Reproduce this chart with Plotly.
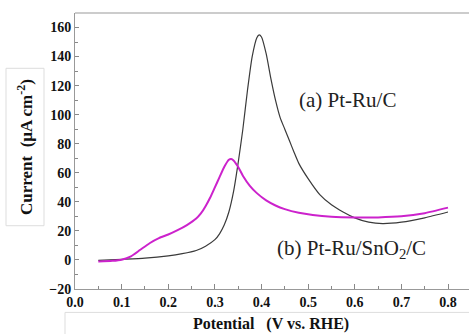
import plotly.graph_objects as go

# Data
x_a = [0.05, 0.10, 0.15, 0.20, 0.23, 0.26, 0.28, 0.30, 0.31, 0.32, 0.33, 0.34, 0.35, 0.36,
       0.37, 0.38, 0.39, 0.395, 0.40, 0.41, 0.42, 0.43, 0.44, 0.45, 0.46, 0.47, 0.48, 0.50,
       0.525, 0.55, 0.575, 0.60, 0.63, 0.66, 0.70, 0.75, 0.80]
y_a = [-0.3, 0.4, 1.2, 2.8, 4.3, 6.5, 9.5, 14, 18, 24, 33, 47, 67, 90,
       117, 140, 153, 155, 153.5, 142, 125, 110, 98, 90, 82, 74, 66.5, 56,
       45, 38, 33, 29, 26, 25, 26, 29, 33]

x_b = [0.05, 0.08, 0.10, 0.12, 0.14, 0.16, 0.18, 0.20, 0.22, 0.24, 0.26, 0.27, 0.28, 0.29,
       0.30, 0.31, 0.32, 0.33, 0.335, 0.34, 0.35, 0.36, 0.375, 0.39, 0.41, 0.43, 0.45, 0.48,
       0.51, 0.55, 0.60, 0.65, 0.70, 0.75, 0.80]
y_b = [-1.1, -0.6, 0.2, 2.5, 7, 11.5, 15, 17.5, 20.5, 24, 28.5, 32, 37, 43,
       50, 57, 64, 69, 69.5, 68.5, 64, 58, 51, 46, 41, 37.5, 35, 32.5,
       31, 29.8, 29.3, 29.3, 30, 32.2, 36]

x_ticks = [0.0, 0.1, 0.2, 0.3, 0.4, 0.5, 0.6, 0.7, 0.8]
y_ticks = [-20, 0, 20, 40, 60, 80, 100, 120, 140, 160]

W, H = 469, 334
L, T, B, R = 75, 12.5, 44.5, 0
pw, ph = W - L - R, H - T - B

def px(xp):
    return (xp - L) / pw

def py(yp):
    return (H - B - yp) / ph

SERIF = "'Liberation Serif', 'Times New Roman', Times, serif"

fig = go.Figure()
fig.add_trace(go.Scatter(x=x_a, y=y_a, mode="lines",
                         line=dict(color="#3a3a3a", width=1.2, shape="spline", smoothing=0.6),
                         showlegend=False))
fig.add_trace(go.Scatter(x=x_b, y=y_b, mode="lines",
                         line=dict(color="#cc22cc", width=2, shape="spline", smoothing=0.6),
                         showlegend=False))

tickfont = dict(family=SERIF, size=14, color="#111", weight="bold")
fig.update_xaxes(range=[0, pw / 466.25], tickvals=x_ticks, ticktext=[f"{v:.1f}" for v in x_ticks],
                 ticks="inside", ticklen=5, tickcolor="#888", showline=True, linecolor="#999", linewidth=1,
                 mirror=False, showgrid=False, zeroline=False, tickfont=tickfont,
                 minor=dict(dtick=0.05, tick0=0, ticks="inside", ticklen=3, tickcolor="#888"))
fig.update_yaxes(range=[-20, 170], tickvals=y_ticks, ticks="inside", ticklen=4, tickcolor="#888",
                 showline=True, linecolor="#999", linewidth=1, showgrid=False, zeroline=False,
                 tickfont=tickfont,
                 minor=dict(dtick=10, tick0=0, ticks="inside", ticklen=3, tickcolor="#888"))

shapes = [
    dict(type="line", xref="paper", yref="paper", x0=0, x1=1, y0=1, y1=1, line=dict(color="#999", width=1)),
    dict(type="rect", xref="paper", yref="paper", x0=px(6), x1=px(44), y0=py(226), y1=py(68),
         line=dict(color="#dddddd", width=1), fillcolor="white", layer="below"),
    dict(type="rect", xref="paper", yref="paper", x0=px(65), x1=px(475), y0=py(340), y1=py(313),
         line=dict(color="#dddddd", width=1), fillcolor="white", layer="below"),
]

annotations = [
    dict(text="Current  (μA cm<sup>-2</sup>)", xref="paper", yref="paper", x=px(25), y=py(147),
         textangle=-90, showarrow=False, xanchor="center", yanchor="middle",
         font=dict(family=SERIF, size=17, color="#111", weight="bold")),
    dict(text="Potential   (V vs. RHE)", xref="paper", yref="paper", x=px(271), y=py(325),
         showarrow=False, xanchor="center", yanchor="middle",
         font=dict(family=SERIF, size=16, color="#111", weight="bold")),
    dict(text="(a) Pt-Ru/C", xref="paper", yref="paper", x=px(347), y=py(100),
         showarrow=False, xanchor="center", yanchor="middle",
         font=dict(family=SERIF, size=21, color="#222")),
    dict(text="(b) Pt-Ru/SnO<sub>2</sub>/C", xref="paper", yref="paper", x=px(351), y=py(249),
         showarrow=False, xanchor="center", yanchor="middle",
         font=dict(family=SERIF, size=21, color="#222")),
]

fig.update_layout(width=W, height=H, margin=dict(l=L, r=R, t=T, b=B, pad=0),
                  paper_bgcolor="white", plot_bgcolor="white",
                  shapes=shapes, annotations=annotations)

fig.write_html("out.html")
